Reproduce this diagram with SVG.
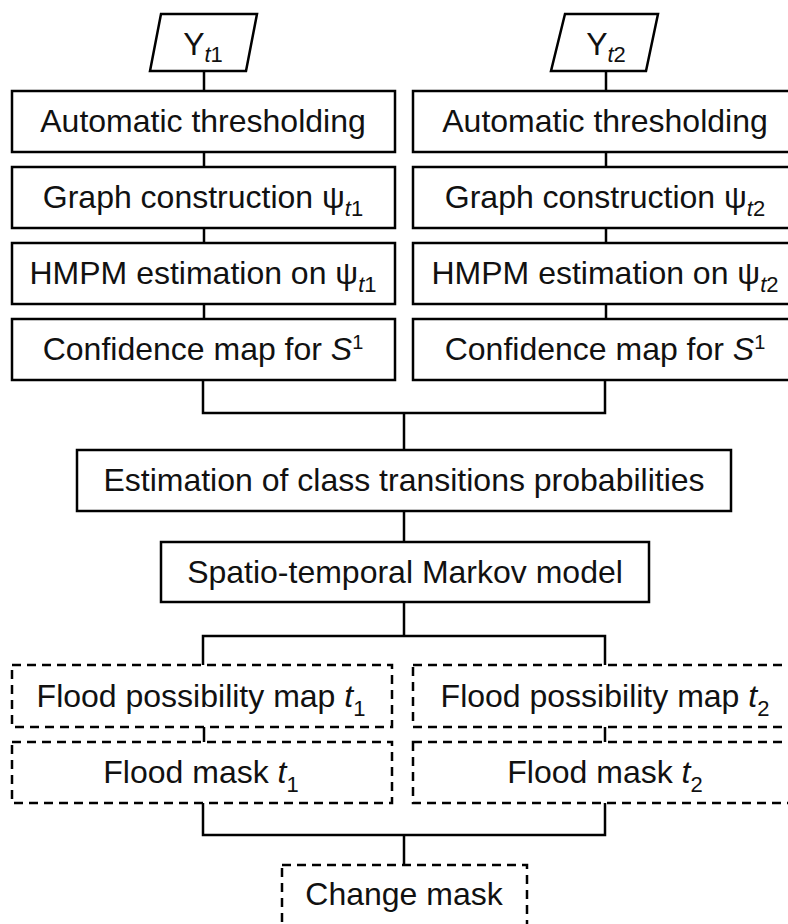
<svg xmlns="http://www.w3.org/2000/svg" width="788" height="924" viewBox="0 0 788 924">
<style>
.box{fill:#fff;stroke:#000;stroke-width:2.5}
.dash{fill:#fff;stroke:#000;stroke-width:2.5;stroke-dasharray:9 6}
.con{fill:none;stroke:#000;stroke-width:2.5}
.lbl{font-family:"Liberation Sans",Arial,sans-serif;font-size:32px;fill:#111;text-anchor:middle}
.sub{font-size:22px}
.sup{font-size:20px}
.it{font-style:italic}
</style>
<rect width="788" height="924" fill="#fff"/>
<g id="connectors">
<path class="con" d="M204 71V91M204 152V167M204 228V243M204 304V319"/>
<path class="con" d="M606 71V91M606 152V167M606 228V243M606 304V319"/>
<path class="con" d="M203 380V413H605V380M404 413V450"/>
<path class="con" d="M404 511V542M404 602V636M203 665V636H605V665"/>
<path class="con" d="M204 727V742M605 727V742"/>
<path class="con" d="M203 803V835H605V803M404 835V865"/>
</g>
<g id="input_t1">
<polygon class="box" points="161,14 257,14 246,71 150,71"/>
<text class="lbl" x="203" y="55">Y<tspan class="sub it" dy="7">t</tspan><tspan class="sub">1</tspan></text>
</g>
<g id="input_t2">
<polygon class="box" points="565,14 658,14 646,71 551,71"/>
<text class="lbl" x="606" y="55">Y<tspan class="sub it" dy="7">t</tspan><tspan class="sub">2</tspan></text>
</g>
<g id="thresh_t1">
<rect class="box" x="12" y="91" width="383" height="61"/>
<text class="lbl" x="203" y="132">Automatic thresholding</text>
</g>
<g id="thresh_t2">
<rect class="box" x="413" y="91" width="386" height="61"/>
<text class="lbl" x="605" y="132">Automatic thresholding</text>
</g>
<g id="graph_t1">
<rect class="box" x="12" y="167" width="383" height="61"/>
<text class="lbl" x="203" y="208">Graph construction ψ<tspan class="sub it" dy="8">t</tspan><tspan class="sub">1</tspan></text>
</g>
<g id="graph_t2">
<rect class="box" x="413" y="167" width="386" height="61"/>
<text class="lbl" x="605" y="208">Graph construction ψ<tspan class="sub it" dy="8">t</tspan><tspan class="sub">2</tspan></text>
</g>
<g id="hmpm_t1">
<rect class="box" x="12" y="243" width="383" height="61"/>
<text class="lbl" x="203" y="284">HMPM estimation on ψ<tspan class="sub it" dy="8">t</tspan><tspan class="sub">1</tspan></text>
</g>
<g id="hmpm_t2">
<rect class="box" x="413" y="243" width="386" height="61"/>
<text class="lbl" x="605" y="284">HMPM estimation on ψ<tspan class="sub it" dy="8">t</tspan><tspan class="sub">2</tspan></text>
</g>
<g id="conf_t1">
<rect class="box" x="12" y="319" width="383" height="61"/>
<text class="lbl" x="203" y="360">Confidence map for <tspan class="it">S</tspan><tspan class="sup" dy="-11">1</tspan></text>
</g>
<g id="conf_t2">
<rect class="box" x="413" y="319" width="386" height="61"/>
<text class="lbl" x="605" y="360">Confidence map for <tspan class="it">S</tspan><tspan class="sup" dy="-11">1</tspan></text>
</g>
<g id="estimation">
<rect class="box" x="77" y="450" width="654" height="61"/>
<text class="lbl" x="404" y="491">Estimation of class transitions probabilities</text>
</g>
<g id="markov">
<rect class="box" x="161" y="542" width="488" height="60"/>
<text class="lbl" x="405" y="583">Spatio-temporal Markov model</text>
</g>
<g id="poss_t1">
<rect class="dash" x="12" y="665" width="380" height="62"/>
<text class="lbl" x="201" y="707">Flood possibility map <tspan class="it">t</tspan><tspan class="sub" dy="9">1</tspan></text>
</g>
<g id="poss_t2">
<rect class="dash" x="413" y="665" width="386" height="62"/>
<text class="lbl" x="605" y="707">Flood possibility map <tspan class="it">t</tspan><tspan class="sub" dy="9">2</tspan></text>
</g>
<g id="mask_t1">
<rect class="dash" x="12" y="742" width="380" height="61"/>
<text class="lbl" x="201" y="783">Flood mask <tspan class="it">t</tspan><tspan class="sub" dy="9">1</tspan></text>
</g>
<g id="mask_t2">
<rect class="dash" x="413" y="742" width="386" height="61"/>
<text class="lbl" x="605" y="783">Flood mask <tspan class="it">t</tspan><tspan class="sub" dy="9">2</tspan></text>
</g>
<g id="change">
<rect class="dash" x="282" y="865" width="245" height="61"/>
<text class="lbl" x="404" y="905">Change mask</text>
</g>
</svg>
